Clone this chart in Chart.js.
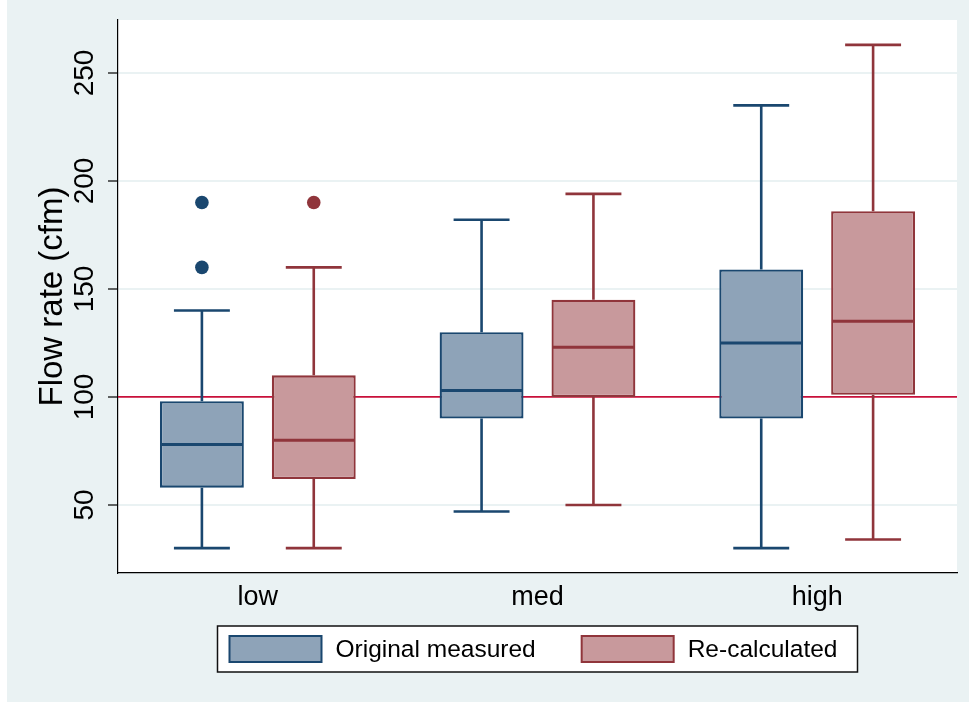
<!DOCTYPE html>
<html>
<head>
<meta charset="utf-8">
<script src="https://cdn.jsdelivr.net/npm/chart.js@4.4.1/dist/chart.umd.min.js"></script>
<style>
  html,body{margin:0;padding:0;background:#fff;}
  #wrap{position:absolute;left:7px;top:0;width:962px;height:702px;background:#eaf2f3;}
</style>
</head>
<body>
<div id="wrap"><canvas id="chart"></canvas></div>
<script>
// data
const categories = ['low', 'med', 'high'];
const seriesNames = ['Original measured', 'Re-calculated'];

const origMin = [30, 47, 30];
const origQ1 = [58, 90, 90];
const origMed = [78, 103, 125];
const origQ3 = [98, 130, 159];
const origMax = [140, 182, 235];
const origOutliers = [[160, 190], [], []];

const recMin = [30, 50, 34];
const recQ1 = [62, 100, 101];
const recMed = [80, 123, 135];
const recQ3 = [110, 145, 186];
const recMax = [160, 194, 263];
const recOutliers = [[190], [], []];

const yTicks = [50, 100, 150, 200, 250];
const yMin = 18.5, yMax = 274.5;
const refLine = 100;

const FONT = "'Liberation Sans', Arial, Helvetica, sans-serif";
const colors = [
  {fill:'#8ea3b8', line:'#1a476f'},
  {fill:'#c8999c', line:'#90353b'}
];

function boxData(q1, q3){ return q1.map((v,i)=>[v, q3[i]]); }

const datasets = [
  {label:seriesNames[0], data:boxData(origQ1, origQ3), stats:{min:origMin, med:origMed, max:origMax, out:origOutliers}},
  {label:seriesNames[1], data:boxData(recQ1, recQ3), stats:{min:recMin, med:recMed, max:recMax, out:recOutliers}}
].map((d,i)=>Object.assign(d, {
  backgroundColor:colors[i].fill, borderColor:colors[i].line, borderWidth:2.3, borderSkipped:false,
  categoryPercentage:0.8, barPercentage:0.75
}));

// white plot area + reference line
const plotBg = {
  id:'plotBg',
  beforeDraw(chart){
    const {ctx, chartArea:a} = chart;
    ctx.save(); ctx.fillStyle = '#fff'; ctx.fillRect(a.left, a.top, a.right-a.left, a.bottom-a.top); ctx.restore();
  },
  beforeDatasetsDraw(chart){
    const {ctx, chartArea:a} = chart; const y = chart.scales.y.getPixelForValue(refLine);
    ctx.save(); ctx.strokeStyle = '#c8103a'; ctx.lineWidth = 1.8;
    ctx.beginPath(); ctx.moveTo(a.left, y); ctx.lineTo(a.right, y); ctx.stroke(); ctx.restore();
  }
};

// whiskers, medians, outliers
const boxParts = {
  id:'boxParts',
  afterDatasetsDraw(chart){
    const ctx = chart.ctx; const ys = chart.scales.y;
    chart.data.datasets.forEach((ds, di)=>{
      const meta = chart.getDatasetMeta(di); const st = ds.stats;
      meta.data.forEach((bar, j)=>{
        const x = bar.x, w = bar.width, cap = w/3;
        const pMin = ys.getPixelForValue(st.min[j]), pMax = ys.getPixelForValue(st.max[j]);
        const pQ1 = ys.getPixelForValue(ds.data[j][0]), pQ3 = ys.getPixelForValue(ds.data[j][1]);
        const pMed = ys.getPixelForValue(st.med[j]);
        ctx.save(); ctx.strokeStyle = ds.borderColor; ctx.lineWidth = 2.6; ctx.lineCap = 'butt';
        ctx.beginPath();
        ctx.moveTo(x, pQ3); ctx.lineTo(x, pMax);
        ctx.moveTo(x-cap, pMax); ctx.lineTo(x+cap, pMax);
        ctx.moveTo(x, pQ1); ctx.lineTo(x, pMin);
        ctx.moveTo(x-cap, pMin); ctx.lineTo(x+cap, pMin);
        ctx.stroke();
        ctx.lineWidth = 3;
        ctx.beginPath(); ctx.moveTo(x-w/2+1, pMed); ctx.lineTo(x+w/2-1, pMed); ctx.stroke();
        ctx.fillStyle = ds.borderColor;
        st.out[j].forEach(v=>{ ctx.beginPath(); ctx.arc(x, ys.getPixelForValue(v), 6.8, 0, Math.PI*2); ctx.fill(); });
        ctx.restore();
      });
    });
  }
};

// framed legend under the plot
const boxLegend = {
  id:'boxLegend',
  afterDraw(chart){
    const {ctx, chartArea:a} = chart;
    const fw = 640, fh = 46; const fx = (a.left + a.right)/2 - fw/2; const fy = 626;
    ctx.save();
    ctx.fillStyle = '#fff'; ctx.fillRect(fx, fy, fw, fh);
    ctx.strokeStyle = '#111'; ctx.lineWidth = 1.5; ctx.strokeRect(fx, fy, fw, fh);
    ctx.font = '24.5px ' + FONT; ctx.textBaseline = 'middle'; ctx.textAlign = 'left';
    let x = fx + 12; const sw = 92, sh = 26, sy = fy + 10;
    chart.data.datasets.forEach(ds=>{
      ctx.fillStyle = ds.backgroundColor; ctx.fillRect(x, sy, sw, sh);
      ctx.strokeStyle = ds.borderColor; ctx.lineWidth = 2; ctx.strokeRect(x, sy, sw, sh);
      ctx.fillStyle = '#000'; ctx.fillText(ds.label, x + sw + 14, sy + sh/2 + 1);
      x += sw + 14 + ctx.measureText(ds.label).width + 46;
    });
    ctx.restore();
  }
};

new Chart(document.getElementById('chart'), {
  type:'bar',
  data:{labels:categories, datasets},
  plugins:[plotBg, boxParts, boxLegend],
  options:{
    responsive:true, maintainAspectRatio:false, animation:false,
    layout:{padding:{top:20, right:12, left:0, bottom:0}},
    plugins:{legend:{display:false}, tooltip:{enabled:false}},
    scales:{
      x:{
        type:'category', offset:true,
        grid:{display:false, drawTicks:false},
        border:{display:true, color:'#000', width:1.2},
        ticks:{color:'#000', font:{family:FONT, size:27}, padding:8},
        afterFit(s){ s.height = 129; }
      },
      y:{
        min:yMin, max:yMax,
        afterBuildTicks(s){ s.ticks = yTicks.map(v=>({value:v})); },
        grid:{color:ctx=>ctx.tick && ctx.tick.value === refLine ? 'rgba(0,0,0,0)' : '#eaf2f3', lineWidth:2, tickColor:'#000', tickLength:10, tickWidth:1.2},
        border:{display:true, color:'#000', width:1.2},
        ticks:{color:'#000', font:{family:FONT, size:28}, minRotation:90, maxRotation:90, crossAlign:'center', padding:-1},
        title:{display:true, text:'Flow rate (cfm)', color:'#000', font:{family:FONT, size:33}, padding:{top:26, bottom:0}},
        afterFit(s){ s.width = 111; }
      }
    }
  }
});
</script>
</body>
</html>
